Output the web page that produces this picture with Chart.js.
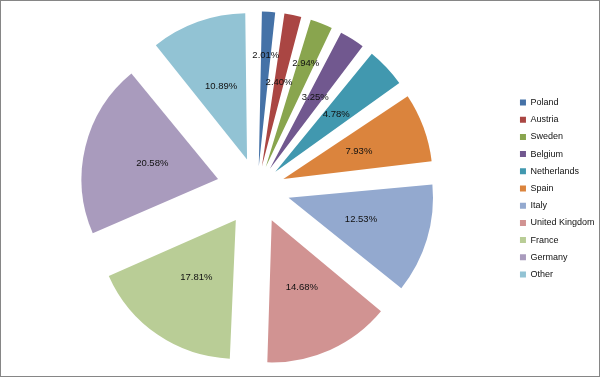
<!DOCTYPE html>
<html>
<head>
<meta charset="utf-8">
<script src="https://cdn.jsdelivr.net/npm/chart.js@4"></script>
<style>
  html, body { margin: 0; padding: 0; background: #fff; }
</style>
</head>
<body>
<canvas id="pie_EU" width="600" height="377"></canvas>
<script>
const countries = ["Poland", "Austria", "Sweden", "Belgium", "Netherlands", "Spain",
  "Italy", "United Kingdom", "France", "Germany", "Other"];
const shares = [2.01, 2.40, 2.94, 3.25, 4.78, 7.93, 12.53, 14.68, 17.81, 20.58, 10.89];
const sliceColors = ["#4572A7", "#AA4643", "#89A54E", "#71588F", "#4198AF", "#DB843D",
  "#93A9CF", "#D19392", "#B9CD96", "#A99BBD", "#92C3D4"];
// labels of thin slices that sit further out so they don't collide
const pushedLabels = ["Poland", "Sweden"];

const SLICE_PUSH = 42;   // how far every slice is pulled out (px)
const PIE_RADIUS = 135;
const FONT = '"Liberation Sans", Arial, sans-serif';

// chart.js moves an arc by offset/4 * (2 - sin(angle)), so undo that
// to get the same explosion on every slice, like excel does
function sliceOffset(ctx) {
  const total = ctx.dataset.data.reduce((a, b) => a + b, 0);
  const angle = ctx.parsed / total * Math.PI * 2;
  return SLICE_PUSH * 4 / (2 - Math.sin(Math.min(Math.PI, angle)));
}

const sliceLabels = {
  id: "sliceLabels",
  afterDatasetsDraw(chart) {
    const ctx = chart.ctx;
    const meta = chart.getDatasetMeta(0);
    ctx.save();
    ctx.font = "9.5px " + FONT;
    ctx.fillStyle = "#111";
    ctx.textAlign = "center";
    ctx.textBaseline = "middle";
    meta.data.forEach((arc, i) => {
      const p = arc.getProps(["x", "y", "startAngle", "endAngle", "outerRadius"], true);
      const mid = (p.startAngle + p.endAngle) / 2;
      const k = pushedLabels.includes(countries[i]) ? 0.68 : 0.49;
      const r = SLICE_PUSH + p.outerRadius * k;
      ctx.fillText(shares[i].toFixed(2) + "%", p.x + Math.cos(mid) * r, p.y + Math.sin(mid) * r);
    });
    ctx.restore();
  }
};

const frame = {
  id: "frame",
  beforeDraw(chart) {
    const ctx = chart.ctx;
    ctx.save();
    ctx.fillStyle = "#fff";
    ctx.fillRect(0, 0, chart.width, chart.height);
    ctx.restore();
  },
  afterDraw(chart) {
    const ctx = chart.ctx;
    ctx.save();
    ctx.strokeStyle = "#868686";
    ctx.lineWidth = 1;
    ctx.strokeRect(0.5, 0.5, chart.width - 1, chart.height - 1);
    ctx.restore();
  }
};

const data_EU = {
  labels: countries,
  datasets: [
    {
      data: shares,
      backgroundColor: sliceColors,
      borderWidth: 0,
      offset: sliceOffset,
      hoverOffset: 0,
    },
  ],
};

const config_EU = {
  type: "pie",
  data: data_EU,
  options: {
    responsive: false,
    animation: false,
    events: [],
    radius: PIE_RADIUS,
    layout: {
      padding: { left: 3, right: -4.5, top: 0, bottom: 0 },
    },
    plugins: {
      legend: {
        position: "right",
        align: "center",
        labels: {
          boxWidth: 6,
          boxHeight: 6,
          padding: 8.2,
          color: "#111",
          font: { family: FONT, size: 9 },
        },
      },
      tooltip: { enabled: false },
    },
  },
  plugins: [frame, sliceLabels],
};

const pie_EU = new Chart(document.getElementById("pie_EU"), config_EU);
</script>
</body>
</html>
